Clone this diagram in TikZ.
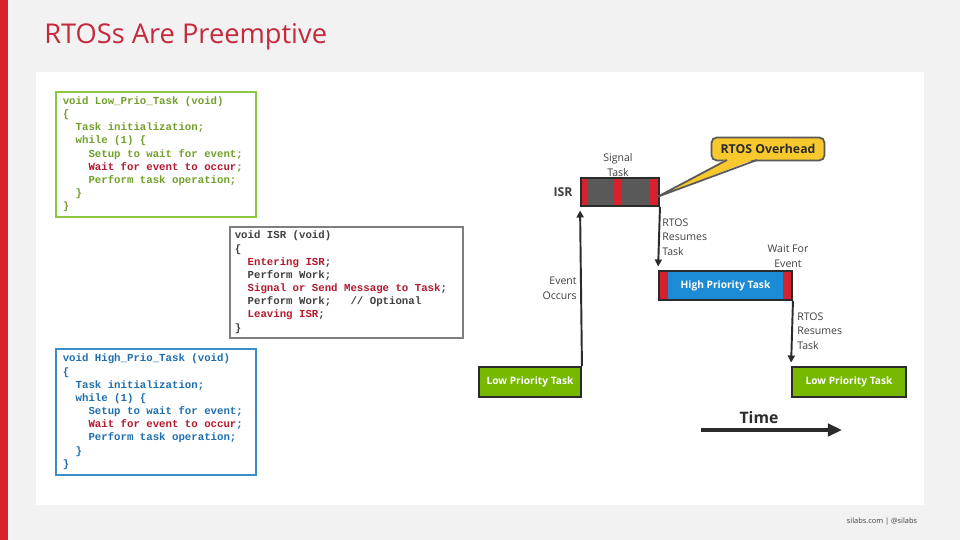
\documentclass[tikz,border=0pt]{standalone}
\usepackage{fontspec}
\setmainfont{Open Sans}
\setmonofont{Liberation Mono}
\usetikzlibrary{arrows.meta,positioning}

\definecolor{fondgris}{HTML}{F2F2F2}
\definecolor{barrerouge}{HTML}{DA1F2E}
\definecolor{titrerouge}{HTML}{C42A3C}
\definecolor{vertcode}{HTML}{72A02A}
\definecolor{vertcadre}{HTML}{8DC63F}
\definecolor{bleucode}{HTML}{1F6FAE}
\definecolor{bleucadre}{HTML}{3A8DC8}
\definecolor{griscode}{HTML}{404040}
\definecolor{griscadre}{HTML}{7F7F7F}
\definecolor{rougecode}{HTML}{B5192F}
\definecolor{vertbas}{HTML}{77B800}
\definecolor{bleuhaut}{HTML}{1B8BD6}
\definecolor{rougesurcharge}{HTML}{D6212E}
\definecolor{grisisr}{HTML}{595959}
\definecolor{jaunebulle}{HTML}{F8C82D}
\definecolor{bordsombre}{HTML}{2B2B2B}
\definecolor{textegris}{HTML}{404040}

\newcommand{\espacecode}{\spaceskip=0.6em\relax}

\begin{document}
\begin{tikzpicture}[
    x=0.02cm,
    y=-0.02cm,
    tache/.style={
        draw=bordsombre,
        line width=1.1pt,
        text=white,
        inner sep=0pt,
        font=\fontsize{5.8}{7}\selectfont\bfseries
    },
    code/.style={
        draw,
        line width=0.9pt,
        fill=white,
        anchor=north west,
        align=left,
        inner ysep=0pt,
        font=\fontsize{6.1}{7.5}\selectfont\ttfamily\bfseries
    },
    fleche/.style={
        -{Triangle[length=4pt,width=4pt]},
        line width=1.1pt,
        draw=bordsombre,
        shorten >=2pt
    },
    etiquette/.style={
        font=\fontsize{6}{8.3}\selectfont,
        text=textegris,
        inner sep=0pt
    },
    rouge/.style={
        fill=rougesurcharge
    }
]

% Background and panel
\fill[fondgris] (0,0) rectangle (960,540);
\useasboundingbox (0,0) rectangle (960,540);
\fill[barrerouge] (0,0) rectangle (8,540);
\fill[white] (36,72) rectangle (924,505);

% Title
\node[anchor=base west, inner sep=0pt, text=titrerouge,
      font=\fontsize{15.5}{17}\selectfont] (titre) at (44,44) {RTOSs Are Preemptive};

% Code listings
\node[code, draw=vertcadre, text=vertcode, inner xsep=0.14cm,
      text width=3.72cm, minimum width=4cm, minimum height=2.5cm] (codebas) at (55,91)
{\espacecode void Low\_Prio\_Task (void)\\
\{\\
\hphantom{xx}Task initialization;\\
\hphantom{xx}while (1) \{\\
\hphantom{xxxx}Setup to wait for event;\\
\hphantom{xxxx}\textcolor{rougecode}{Wait for event to occur};\\
\hphantom{xxxx}Perform task operation;\\
\hphantom{xx}\}\\
\}};

\node[code, draw=griscadre, text=griscode, inner xsep=0.1cm,
      text width=4.46cm, minimum width=4.66cm, minimum height=2.22cm] (codeisr) at (229,226)
{\espacecode void ISR (void)\\
\{\\
\hphantom{xx}\textcolor{rougecode}{Entering ISR};\\
\hphantom{xx}Perform Work;\\
\hphantom{xx}\textcolor{rougecode}{Signal or Send Message to Task};\\
\hphantom{xx}Perform Work;\hphantom{xxx}// Optional\\
\hphantom{xx}\textcolor{rougecode}{Leaving ISR};\\
\}};

\node[code, draw=bleucadre, text=bleucode, inner xsep=0.14cm,
      text width=3.72cm, minimum width=4cm, minimum height=2.52cm] (codehaut) at (55,348)
{\espacecode void High\_Prio\_Task (void)\\
\{\\
\hphantom{xx}Task initialization;\\
\hphantom{xx}while (1) \{\\
\hphantom{xxxx}Setup to wait for event;\\
\hphantom{xxxx}\textcolor{rougecode}{Wait for event to occur};\\
\hphantom{xxxx}Perform task operation;\\
\hphantom{xx}\}\\
\}};

% Tasks on the time line
\node[tache, fill=vertbas, minimum width=2.04cm, minimum height=0.6cm] (bas1) at (530,382) {Low Priority Task};
\node[tache, fill=vertbas, minimum width=2.28cm, minimum height=0.6cm] (bas2) at (849,382) {Low Priority Task};

\node[tache, fill=grisisr, minimum width=1.56cm, minimum height=0.56cm,
      path picture={
        \fill[rouge] (path picture bounding box.south west) rectangle ++(0.12cm,0.56cm);
        \fill[rouge] ([xshift=0.66cm]path picture bounding box.south west) rectangle ++(0.16cm,0.56cm);
        \fill[rouge] (path picture bounding box.south east) rectangle ++(-0.18cm,0.56cm);
      }] (isr) at (620,192) {};

\node[tache, fill=bleuhaut, minimum width=2.66cm, minimum height=0.58cm,
      path picture={
        \fill[rouge] (path picture bounding box.south west) rectangle ++(0.18cm,0.58cm);
        \fill[rouge] (path picture bounding box.south east) rectangle ++(-0.18cm,0.58cm);
      }] (haut) at (725.5,285.5) {High Priority Task};

% Transitions
\draw[fleche] (bas1.north east) -- (isr.south west);
\draw[fleche] (isr.south east) -- (haut.north west);
\draw[fleche] (haut.south east) -- (bas2.north west);

% Labels
\node[etiquette, font=\fontsize{7}{8}\selectfont\bfseries] (nomisr) at (563,192) {ISR};
\node[etiquette, align=center] (signal) at (618,165) {Signal\\Task};
\node[etiquette, align=right, anchor=east] (evenement) at (577,288) {Event\\Occurs};
\node[etiquette, align=left, anchor=west] (reprise1) at (662,237) {RTOS\\Resumes\\Task};
\node[etiquette, align=center] (attente) at (788,256) {Wait For\\Event};
\node[etiquette, align=left, anchor=west] (reprise2) at (797,331) {RTOS\\Resumes\\Task};

% RTOS overhead callout
\node[draw=grisisr, line width=1pt, fill=jaunebulle, rounded corners=3pt, text=bordsombre,
      minimum width=2.26cm, minimum height=0.46cm, inner sep=0pt,
      font=\fontsize{7}{8}\selectfont\bfseries] (surcharge) at (768,149) {RTOS Overhead};
\coordinate (pointe) at (657,197);
\coordinate (basea) at (727,160);
\coordinate (baseb) at (757,160);
\fill[jaunebulle] (727.5,158.5) -- (pointe) -- (756.5,158.5) -- cycle;
\draw[grisisr, line width=1pt, line join=miter] (basea) -- (pointe) -- (baseb);

% Time axis
\coordinate (t0) at (701,430);
\coordinate (t1) at (842,430);
\draw[bordsombre, line width=2.8pt, -{Triangle[length=8pt,width=7pt]}] (t0) -- (t1);
\node[text=bordsombre, font=\fontsize{9}{10}\selectfont\bfseries] (temps) at (759,418) {Time};

% Footer
\node[text=textegris, font=\fontsize{4.2}{5}\selectfont] (pied) at (882,522) {silabs.com | @silabs};

\end{tikzpicture}
\end{document}
